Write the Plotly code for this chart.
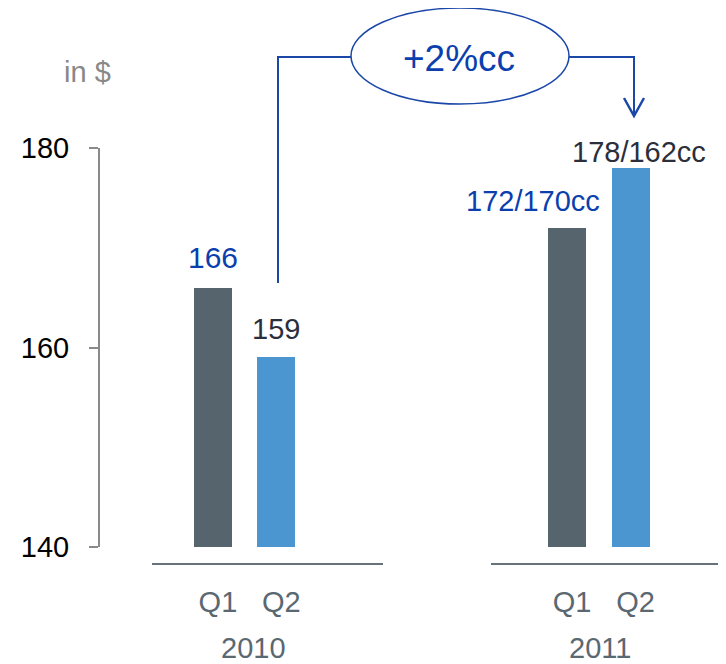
import plotly.graph_objects as go

# ---- data ----
quarters = ["Q1", "Q2"]
values_2010 = [166, 159]
values_2011 = [172, 178]
labels_2010 = ["166", "159"]
labels_2011 = ["172/170cc", "178/162cc"]
years = ["2010", "2011"]
y_ticks = [140, 160, 180]
growth_label = "+2%cc"
unit_label = "in $"

# ---- style ----
W, H = 726, 664
OFF = 8            # page body margin offset of the figure div
BASELINE = 564     # reference pixel row of the category baselines
MB = H - (BASELINE - OFF)
PH = H - MB        # plot area height (margin top 0)
FONT = "Liberation Sans, Arial, sans-serif"
DARK_BAR = "#56656d"
BLUE_BAR = "#4b96d0"
BLUE_TXT = "#0b3fae"
DARK_TXT = "#2b2f3b"
CAT_TXT = "#5a6872"
AXIS_GRAY = "#8a8a8a"
BASE_GRAY = "#66737b"
LINE_BLUE = "#1a47a8"


def px(x):
    return (x - OFF) / W


def py(y):
    return (PH - (y - OFF)) / PH


fig = go.Figure()
bar_colors = [DARK_BAR, BLUE_BAR]
fig.add_trace(go.Bar(x=quarters, y=values_2010, marker_color=bar_colors,
                     marker_line_width=0, width=0.6, xaxis="x", yaxis="y",
                     showlegend=False, hoverinfo="skip"))
fig.add_trace(go.Bar(x=quarters, y=values_2011, marker_color=bar_colors,
                     marker_line_width=0, width=0.6, xaxis="x2", yaxis="y",
                     showlegend=False, hoverinfo="skip"))

x_axis_common = dict(
    type="category", categoryorder="array", categoryarray=quarters,
    anchor="free", position=0, showline=True, linecolor=BASE_GRAY, linewidth=2,
    ticks="", showgrid=False, zeroline=False, fixedrange=True, automargin=False,
    tickfont=dict(family=FONT, size=29, color=CAT_TXT), ticklabelstandoff=12,
    ticklabelshift=5,
)

fig.update_layout(
    width=W, height=H,
    margin=dict(l=0, r=0, t=0, b=MB, autoexpand=False),
    paper_bgcolor="white", plot_bgcolor="white",
    bargap=0,
    xaxis=dict(domain=[px(152), px(383)], range=[-0.96, 2.68], **x_axis_common),
    xaxis2=dict(domain=[px(491), px(722)], range=[-1.20, 2.44], **x_axis_common),
    yaxis=dict(domain=[py(547), py(148)], range=[140, 180], anchor="free",
               position=px(99), tickvals=y_ticks, showline=True,
               linecolor=AXIS_GRAY, linewidth=2, ticks="outside", ticklen=9,
               tickwidth=2, tickcolor=AXIS_GRAY, showgrid=False, zeroline=False,
               tickfont=dict(family=FONT, size=29, color="#000000"),
               ticklabelstandoff=14, fixedrange=True, automargin=False),
)

# value labels (positioned at each bar's value)
label_specs = [
    ("x", quarters[0], values_2010[0], labels_2010[0], BLUE_TXT, 30, 0, 30),
    ("x", quarters[1], values_2010[1], labels_2010[1], DARK_TXT, 29, 0, 28),
    ("x2", quarters[0], values_2011[0], labels_2011[0], BLUE_TXT, 29, -34, 27),
    ("x2", quarters[1], values_2011[1], labels_2011[1], DARK_TXT, 29, 8, 16),
]
for xr, xv, yv, txt, col, size, xs, ys in label_specs:
    fig.add_annotation(xref=xr, yref="y", x=xv, y=yv, text=txt, showarrow=False,
                       xanchor="center", yanchor="middle", xshift=xs, yshift=ys,
                       font=dict(family=FONT, size=size, color=col))

# year labels
for xc, yr in zip([253, 600], years):
    fig.add_annotation(xref="paper", yref="paper", x=px(xc), y=py(648), text=yr,
                       showarrow=False, xanchor="center", yanchor="middle",
                       font=dict(family=FONT, size=29, color=CAT_TXT))

# unit label
fig.add_annotation(xref="paper", yref="paper", x=px(87), y=py(72), text=unit_label,
                   showarrow=False, xanchor="center", yanchor="middle",
                   font=dict(family=FONT, size=29, color="#888888"))

# growth ellipse and connectors
fig.add_shape(type="circle", xref="paper", yref="paper",
              x0=px(351), x1=px(569), y0=py(104), y1=py(8),
              line=dict(color=LINE_BLUE, width=1.5), fillcolor="white")
fig.add_annotation(xref="paper", yref="paper", x=px(459), y=py(58), text=growth_label,
                   showarrow=False, xanchor="center", yanchor="middle",
                   font=dict(family=FONT, size=37, color=BLUE_TXT))


def path(points):
    return "M " + " L ".join(f"{px(a)},{py(b)}" for a, b in points)


fig.add_shape(type="path", xref="paper", yref="paper",
              path=path([(278, 283), (278, 57), (351, 57)]),
              line=dict(color=LINE_BLUE, width=2))
fig.add_shape(type="path", xref="paper", yref="paper",
              path=path([(569, 57), (634, 57), (634, 116)]),
              line=dict(color=LINE_BLUE, width=2))
fig.add_shape(type="path", xref="paper", yref="paper",
              path=path([(624, 98), (634, 116), (644, 98)]),
              line=dict(color=LINE_BLUE, width=2.5))

fig.write_html("out.html")
